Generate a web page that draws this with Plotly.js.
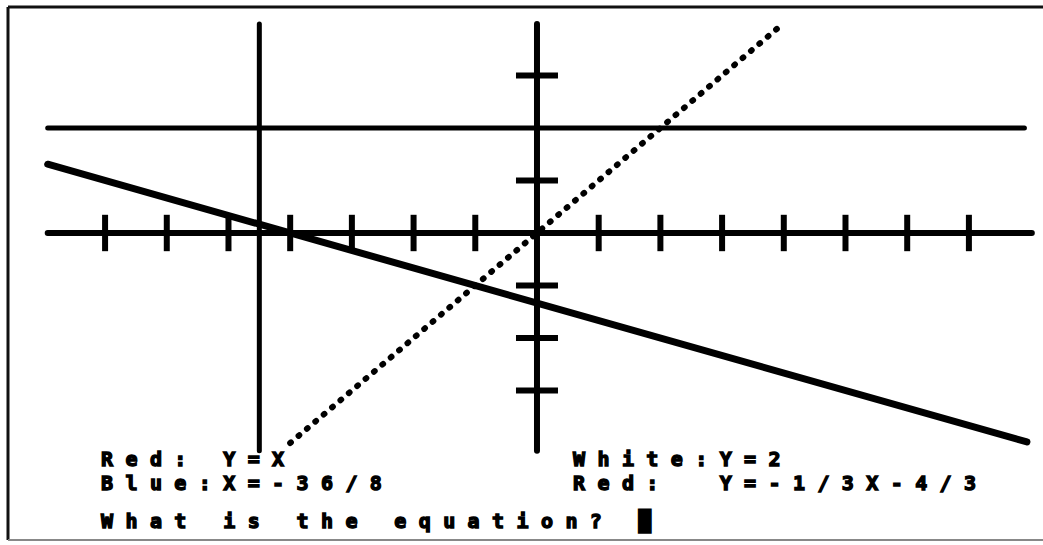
<!DOCTYPE html>
<html>
<head>
<meta charset="utf-8">
<script src="https://cdn.plot.ly/plotly-3.0.1.min.js"></script>
<style>
  body { margin: 0; background: #fff; }
  #graph { width: 1043px; height: 545px; }
  .annotation-text { letter-spacing: 12.4px; stroke: #000; stroke-width: 1.4px; }
  .js-line { stroke-linecap: round; }
</style>
</head>
<body>
<div id="graph"></div>
<script>
// axes of the screen
var axisXx = [-7.93, 8.02];
var axisXy = [0, 0];
var axisYx = [0, 0];
var axisYy = [-4.15, 3.98];
var xTicks = [-7, -6, -5, -4, -3, -2, -1, 1, 2, 3, 4, 5, 6, 7];
var yTicks = [-3, -2, -1, 1, 3];

// Red: Y=X (dotted)
var diagX = [-4, 3.9];
var diagY = [-4, 3.9];
// White: Y=2
var whiteX = [-7.93, 7.9];
var whiteY = [2, 2];
// Blue: X=-36/8
var blueX = [-4.5, -4.5];
var blueY = [-4.15, 3.98];
// Red: Y=-1/3X-4/3
var redX = [-7.93, 7.94];
var redY = [1.31, -3.98];

var labels = [
  "Red:\u00a0Y=X",
  "Blue:X=-36/8",
  "White:Y=2",
  "Red:\u00a0\u00a0Y=-1/3X-4/3",
  "What\u00a0is\u00a0the\u00a0equation?\u00a0\u2588",
];

function zeros(arr, v) {
  var out = [];
  for (var i = 0; i < arr.length; i++) out.push(v);
  return out;
}

function seg(x, y, w, dash) {
  return {
    x: x,
    y: y,
    mode: "lines",
    type: "scatter",
    line: { color: "#000000", width: w, dash: dash || "solid" },
    hoverinfo: "skip",
  };
}

var data = [
  seg(axisXx, axisXy, 6),
  seg(axisYx, axisYy, 6),
  seg(whiteX, whiteY, 5),
  seg(blueX, blueY, 5),
  seg(redX, redY, 7),
  seg(diagX, diagY, 6, "1px,10px"),
  {
    x: xTicks,
    y: zeros(xTicks, 0),
    mode: "markers",
    type: "scatter",
    marker: { symbol: "line-ns", size: 26, line: { color: "#000000", width: 6 } },
    hoverinfo: "skip",
  },
  {
    x: zeros(yTicks, 0),
    y: yTicks,
    mode: "markers",
    type: "scatter",
    marker: { symbol: "line-ew", size: 30, line: { color: "#000000", width: 6 } },
    hoverinfo: "skip",
  },
];

var textFont = { family: "DejaVu Sans Mono", size: 20, color: "#000000", weight: "bold" };
function note(txt, x, y) {
  return {
    text: txt,
    xref: "paper",
    yref: "paper",
    x: x,
    y: y,
    xanchor: "left",
    yanchor: "middle",
    borderpad: 0,
    showarrow: false,
    font: textFont,
  };
}

var layout = {
  width: 1043,
  height: 545,
  margin: { l: 0, r: 0, t: 0, b: 0 },
  showlegend: false,
  hovermode: false,
  plot_bgcolor: "#FFFFFF",
  paper_bgcolor: "#FFFFFF",
  xaxis: { range: [-8.703, 8.201], visible: false, fixedrange: true },
  yaxis: { range: [-5.943, 4.438], visible: false, fixedrange: true },
  annotations: [
    note(labels[0], 0.0959, 1 - 459 / 545),
    note(labels[1], 0.0959, 1 - 483 / 545),
    note(labels[2], 0.5484, 1 - 459 / 545),
    note(labels[3], 0.5484, 1 - 483 / 545),
    note(labels[4], 0.0959, 1 - 521 / 545),
  ],
  shapes: [
    // screen frame
    { type: "line", xref: "paper", yref: "paper", x0: 8 / 1043, x1: 1, y0: 1 - 7 / 545, y1: 1 - 7 / 545,
      line: { color: "#111111", width: 3 } },
    { type: "line", xref: "paper", yref: "paper", x0: 8 / 1043, x1: 8 / 1043, y0: 1 - 7 / 545, y1: 1 - 540 / 545,
      line: { color: "#111111", width: 3 } },
    { type: "line", xref: "paper", yref: "paper", x0: 8 / 1043, x1: 1, y0: 1 - 540 / 545, y1: 1 - 540 / 545,
      line: { color: "#888888", width: 2 } },
  ],
};

Plotly.newPlot("graph", data, layout, { staticPlot: true });
</script>
</body>
</html>
